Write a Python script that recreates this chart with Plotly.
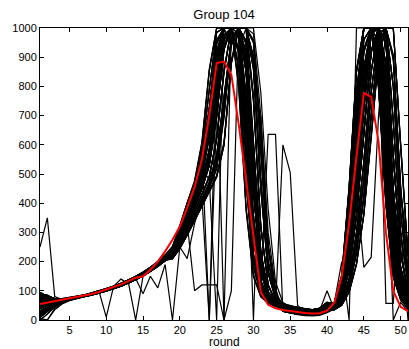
import plotly.graph_objects as go

rounds = list(range(1, 52))
x_ticks = [5, 10, 15, 20, 25, 30, 35, 40, 45, 50]
y_ticks = [0, 100, 200, 300, 400, 500, 600, 700, 800, 900, 1000]

run01 = [80,75,70,72,76,80,85,90,97,104,112,121,132,144,157,172,190,211,
         250,320,400,470,600,850,1000,1000,1000,800,380,150,80,58,47,
         40,35,32,30,28,30,38,
         60,150,450,850,1000,1000,800,400,150,70,40]
run02 = [45,55,62,67,72,77,83,89,95,103,111,121,131,143,156,171,189,210,
         242,305,372,445,545,730,960,1000,1000,915,555,215,92,60,50,
         45,40,36,33,30,32,45,
         55,130,360,720,1000,1000,900,520,200,85,45]
run03 = [10,30,50,62,70,76,82,88,95,102,110,119,130,142,155,170,188,208,
         232,288,352,418,505,650,890,1000,1000,1000,690,315,118,68,50,
         35,30,26,24,22,25,33,
         50,110,290,600,920,1000,1000,650,270,110,55]
run04 = [90,85,72,70,74,79,84,90,98,106,115,125,136,148,162,178,197,220,
         233,282,343,405,475,585,810,1000,1000,1000,850,440,165,78,55,
         50,44,40,36,34,38,55,
         45,95,240,500,820,1000,1000,780,350,140,65]
run05 = [60,62,65,69,73,78,84,91,98,106,114,124,135,147,161,177,196,218,
         228,272,328,388,455,535,710,940,1000,1000,945,590,225,92,58,
         38,33,28,25,24,28,42,
         42,85,200,420,720,980,1000,880,450,180,80]
run06 = [30,45,58,65,70,74,79,85,92,99,107,116,126,138,151,166,183,203,
         218,258,308,368,428,488,615,845,1000,1000,1000,770,325,118,62,
         30,25,20,18,17,20,30,
         40,75,170,360,640,920,1000,950,560,230,95]
run07 = [0,20,45,60,68,75,81,87,94,101,109,118,129,141,154,169,187,207,
         215,255,300,355,410,470,560,760,960,1000,1000,900,650,250,90,
         55,48,42,38,35,40,60,
         38,65,140,300,540,850,1000,1000,680,300,120]
run08 = [70,68,66,68,72,77,82,88,94,101,109,118,128,140,153,168,186,206,
         238,298,368,438,538,715,945,1000,1000,925,565,225,97,63,49,
         36,31,27,25,23,26,35,
         47,98,245,510,830,1000,1000,770,340,135,60]
run09 = [55,58,63,66,71,76,81,87,93,100,108,117,127,139,152,167,185,205,
         236,292,358,423,498,635,870,1000,1000,1000,710,325,122,71,53,
         41,36,33,31,29,31,40,
         43,88,205,430,730,990,1000,870,440,175,75]
run10 = [95,80,68,66,70,75,80,86,93,100,108,117,128,140,154,170,189,212,
         231,279,338,398,468,575,795,1000,1000,1000,865,455,172,82,56,
         46,41,37,34,31,33,47,
         57,135,370,730,1000,1000,890,510,195,82,42]
run11 = [20,40,55,63,69,74,80,86,93,101,110,120,131,144,158,174,193,215,
         226,268,322,382,448,528,695,925,1000,1000,955,605,235,97,61,
         51,45,41,37,35,39,56,
         52,112,295,610,930,1000,1000,640,265,105,52]
run12 = [65,60,62,66,71,76,82,89,97,105,114,124,136,149,163,180,199,222,
         222,262,312,372,432,492,625,855,1000,1000,1000,750,315,122,66,
         39,34,29,26,25,29,43,
         62,155,460,860,1000,1000,790,390,145,68,38]
run13 = [78,74,71,73,77,81,86,92,98,105,113,122,133,145,158,173,191,212,
         237,291,354,421,502,645,885,1000,1000,1000,705,318,119,69,51,
         30,24,20,17,16,19,29,
         41,77,175,365,650,925,1000,945,555,225,92]
run14 = [48,56,63,68,73,78,83,89,96,104,112,122,132,144,157,172,190,211,
         229,281,341,402,472,582,805,1000,1000,1000,855,448,168,80,57,
         54,47,42,38,35,41,58,
         51,108,285,595,915,1000,1000,655,275,112,57]
run15 = [15,35,52,63,71,77,83,89,96,103,111,120,131,143,156,171,189,209,
         224,271,327,386,452,532,705,935,1000,1000,948,598,228,94,59,
         40,35,32,29,27,30,38,
         46,96,242,505,825,1000,1000,775,345,138,63]
run16 = [85,82,74,71,75,80,85,91,99,107,116,126,137,149,163,179,198,221,
         252,322,402,472,605,855,1000,1000,1000,795,375,148,79,57,46,
         44,39,35,32,30,33,44,
         44,87,202,425,725,985,1000,875,445,178,78]
run17 = [62,63,66,70,74,79,85,92,99,107,115,125,136,148,162,178,197,219,
         241,302,371,442,542,725,955,1000,1000,918,560,218,94,61,49,
         34,29,26,23,21,24,32,
         39,74,168,355,635,915,1000,955,565,235,98]
run18 = [32,46,59,65,70,75,80,86,92,99,107,116,126,138,151,166,183,203,
         234,289,356,419,499,642,878,1000,1000,1000,698,322,121,70,52,
         49,43,39,35,33,37,54,
         37,63,138,295,535,845,1000,1000,690,305,125]
run19 = [5,0,40,58,67,74,80,86,93,100,108,117,128,140,153,168,186,206,
         230,279,341,401,471,579,798,1000,1000,1000,862,452,171,79,54,
         37,32,28,25,23,27,41,
         56,132,365,725,1000,1000,905,525,205,88,46]
run20 = [72,69,67,69,73,78,83,89,95,102,110,119,129,141,154,169,187,207,
         226,269,324,384,449,531,702,932,1000,1000,952,602,232,96,60,
         31,26,21,19,18,21,31,
         49,109,288,598,918,1000,1000,648,268,108,54]
run21 = [57,59,64,67,72,77,82,88,94,101,109,118,128,140,153,168,186,206,
         221,261,311,371,431,491,622,852,1000,1000,1000,765,322,119,64,
         56,49,43,39,36,41,61,
         44,94,238,498,818,1000,1000,785,352,142,66]
run22 = [92,78,67,65,69,74,79,85,92,99,107,116,127,139,153,169,188,211,
         216,256,302,357,412,472,565,765,965,1000,1000,895,645,248,88,
         41,36,32,30,28,31,39,
         41,84,198,418,718,978,1000,882,452,182,82]
run23 = [22,42,56,64,70,75,81,87,94,102,111,121,132,145,159,175,194,216,
         243,303,373,443,543,722,952,1000,1000,922,562,222,96,61,49,
         46,41,37,34,31,33,46,
         61,152,455,855,1000,1000,805,405,152,72,41]
run24 = [67,62,63,67,72,77,83,90,98,106,115,125,137,150,164,181,200,223,
         238,293,357,422,503,648,882,1000,1000,1000,702,318,117,67,50,
         35,30,25,24,22,24,34,
         54,128,355,715,1000,1000,895,515,198,84,44]
run25 = [82,76,71,72,76,80,85,91,97,104,112,121,132,144,157,172,190,211,
         231,281,339,401,469,578,802,1000,1000,1000,858,446,169,81,56,
         51,45,40,37,34,38,56,
         41,76,172,362,645,922,1000,948,558,228,94]
run26 = [43,54,61,66,71,76,82,88,95,102,110,120,130,142,155,170,188,209,
         227,271,326,387,451,529,698,928,1000,1000,958,605,229,93,59,
         38,33,28,26,24,28,42,
         38,66,142,302,545,855,1000,1000,675,298,118]
run27 = [12,32,51,62,70,76,82,88,95,102,110,119,130,142,155,170,188,208,
         219,259,309,369,429,489,618,848,1000,1000,1000,755,318,121,63,
         29,24,20,18,16,20,31,
         59,148,448,848,1000,1000,795,398,148,69,39]
run28 = [88,84,73,70,74,79,84,90,98,106,115,125,136,148,162,178,197,220,
         239,294,360,425,508,655,890,1000,1000,1000,695,312,116,69,53,
         55,48,42,38,36,40,59,
         43,86,201,422,722,982,1000,878,448,179,79]
run29 = [58,61,65,69,73,78,84,91,98,106,114,124,135,147,161,177,196,218,
         232,283,342,403,473,583,808,1000,1000,1000,852,442,166,79,54,
         40,35,31,29,28,30,37,
         50,111,292,605,925,1000,1000,645,272,109,56]
run30 = [28,44,57,64,69,74,79,85,92,99,107,116,126,138,151,166,183,203,
         239,301,369,439,539,718,948,1000,1000,928,568,228,98,63,50,
         45,40,36,33,30,32,45,
         45,97,243,502,822,1000,1000,782,348,139,64]
run31 = [54,57,62,66,71,76,81,87,93,100,108,117,127,139,152,167,185,205,
         225,270,324,385,452,532,703,933,1000,1000,947,595,227,95,60,
         35,30,26,24,22,25,33,
         40,75,171,358,642,918,1000,952,562,232,96]
run32 = [64,61,63,67,72,77,83,89,97,105,114,124,136,149,163,180,199,222,
         230,280,340,400,470,580,800,1000,1000,1000,860,450,170,80,55,
         50,44,40,36,34,38,55,
         55,130,360,720,1000,1000,900,520,200,85,45]
run33 = [80,76,72,71,75,79,84,90,96,103,111,120,131,142,154,168,185,204,
         215,250,295,345,400,455,520,700,950,1000,1000,880,480,170,75,
         45,40,36,33,30,32,45,
         36,55,110,230,420,700,950,1000,900,450,160]
run34 = [60,62,65,68,72,77,82,88,94,101,109,118,128,140,153,167,184,203,
         210,245,290,340,390,440,490,600,880,1000,1000,950,560,200,80,
         35,30,26,24,22,25,33,
         35,50,95,190,360,620,900,1000,1000,600,220]
run35 = [55,58,63,66,71,76,81,87,93,100,108,117,127,139,152,167,185,205,
         238,295,362,430,520,690,920,1000,1000,980,640,280,110,66,50,
         38,33,28,25,24,28,42,
         48,100,260,540,860,1000,1000,720,310,125,60]
run36 = [45,55,62,67,72,77,83,89,95,103,111,121,131,143,156,171,189,210,
         226,275,332,392,460,555,750,960,1000,1000,920,520,200,88,58,
         40,35,32,30,28,30,38,
         58,140,400,780,1000,1000,850,460,175,78,42]
run37 = [30,45,58,65,70,74,79,85,92,99,107,116,126,138,151,166,183,203,
         218,252,298,348,402,458,525,710,955,1000,1000,870,470,165,73,
         50,44,40,36,34,38,55,
         47,98,255,530,850,1000,1000,730,320,128,62]
run38 = [65,60,62,66,71,76,82,89,97,105,114,124,136,149,163,180,199,222,
         212,248,292,342,392,442,495,610,890,1000,1000,980,700,300,110,
         30,25,20,18,17,20,30,
         37,57,115,240,430,710,955,1000,890,440,155]
run39 = [10,30,50,62,70,76,82,88,95,102,110,119,130,142,155,170,188,208,
         236,293,360,428,515,680,915,1000,1000,1000,650,285,112,67,51,
         55,48,42,38,35,40,60,
         57,138,395,775,1000,1000,855,465,178,79,43]
run40 = [90,85,72,70,74,79,84,90,98,106,115,125,136,148,162,178,197,220,
         224,273,330,390,458,552,745,955,1000,930,1000,530,205,90,58,
         45,40,36,33,30,32,45,
         36,52,98,195,365,625,905,1000,1000,590,215]
run41 = [0,20,45,60,68,75,81,87,94,101,109,118,129,141,154,169,187,207,
         214,249,293,343,398,452,515,690,945,1000,1000,890,490,175,76,
         38,33,28,25,24,28,42,
         40,75,170,360,640,920,1000,950,560,230,95]
run42 = [70,68,66,68,72,77,82,88,94,101,109,118,128,140,153,168,186,206,
         211,246,291,341,391,441,492,605,885,1000,1000,960,575,205,82,
         40,35,32,30,28,30,38,
         35,54,108,228,418,698,948,1000,910,460,165]
run43 = [95,80,68,66,70,75,80,86,93,100,108,117,128,140,154,170,189,212,
         240,297,364,432,522,695,925,1000,940,1000,630,275,108,65,49,
         35,30,26,24,22,25,33,
         45,95,240,500,820,1000,1000,780,350,140,65]
run44 = [20,40,55,63,69,74,80,86,93,101,110,120,131,144,158,174,193,215,
         227,276,334,394,462,558,755,965,1000,1000,915,515,198,87,57,
         50,44,40,36,34,38,55,
         49,102,265,548,868,1000,1000,712,305,122,58]
run45 = [62,63,66,70,74,79,85,92,99,107,115,125,136,148,162,178,197,219,
         209,244,289,339,389,439,489,598,878,1000,1000,955,565,202,81,
         55,48,42,38,35,40,60,
         58,140,400,780,1000,1000,850,460,175,78,42]
run46 = [78,74,71,73,77,81,86,92,98,105,113,122,133,145,158,173,191,212,
         216,251,296,346,401,456,522,705,952,1000,1000,950,650,260,100,
         30,25,20,18,17,20,30,
         35,51,96,192,362,622,902,1000,1000,605,225]
run47 = [48,56,63,68,73,78,83,89,96,104,112,122,132,144,157,172,190,211,
         241,302,370,441,541,725,955,1000,1000,910,550,212,90,60,49,
         38,33,28,25,24,28,42,
         36,55,110,230,420,700,950,1000,900,450,160]
run48 = [57,59,64,67,72,77,82,88,94,101,109,118,128,140,153,168,186,206,
         215,255,300,355,410,470,560,760,960,1000,1000,905,655,255,92,
         45,40,36,33,30,32,45,
         48,100,260,540,860,1000,1000,720,310,125,60]
run49 = [67,62,63,67,72,77,83,90,98,106,115,125,137,150,164,181,200,223,
         252,325,405,478,610,860,1000,1000,1000,810,390,155,82,59,48,
         35,30,26,24,22,25,33,
         58,140,400,780,1000,1000,850,460,175,78,42]
run50 = [32,46,59,65,70,75,80,86,92,99,107,116,126,138,151,166,183,203,
         226,275,332,392,460,555,750,960,1000,1000,920,520,200,88,58,
         30,24,20,17,16,19,29,
         36,55,110,230,420,700,950,1000,900,450,160]
run51 = [88,84,73,70,74,79,84,90,98,106,115,125,136,148,162,178,197,220,
         238,295,362,430,520,690,920,1000,1000,980,640,280,110,66,50,
         50,44,40,36,34,38,55,
         35,50,95,190,360,620,900,1000,1000,600,220]
run52 = [15,35,52,63,71,77,83,89,96,103,111,120,131,143,156,171,189,209,
         210,245,290,340,390,440,490,600,880,1000,1000,1000,780,380,130,
         60,45,36,32,30,30,38,
         48,100,260,540,860,1000,1000,720,310,125,60]
run53 = [74,71,68,69,73,78,83,89,96,103,111,120,130,142,155,170,188,209,
         245,312,385,455,570,790,985,1000,1000,860,470,185,88,60,48,
         42,37,34,31,29,31,41,
         53,120,330,670,960,1000,950,580,235,95,48]
run54 = [50,57,63,67,72,77,82,88,95,102,110,119,129,141,154,169,187,207,
         228,277,336,396,465,568,775,975,1000,1000,890,485,185,84,57,
         48,42,38,35,32,36,52,
         44,90,220,460,770,990,1000,830,400,160,70]
run55 = [25,42,56,64,70,75,81,87,94,101,109,118,128,140,153,168,186,206,
         217,254,300,352,408,465,540,730,965,1000,1000,860,450,160,72,
         36,31,27,24,23,26,36,
         37,60,125,265,480,780,980,1000,800,370,140]
run56 = [86,80,72,70,74,78,83,89,96,104,112,122,133,145,158,173,191,213,
         233,286,349,414,490,625,860,1000,1000,1000,760,360,135,74,53,
         33,28,23,21,19,22,31,
         53,120,330,670,960,1000,950,580,235,95,48]
run57 = [63,61,64,68,72,77,83,90,97,105,113,123,134,146,159,175,193,214,
         245,312,385,455,570,790,985,1000,1000,860,470,185,88,60,48,
         52,46,41,37,35,39,57,
         37,60,125,265,480,780,980,1000,800,370,140]
run58 = [8,28,48,61,69,75,81,87,94,101,109,118,129,141,154,169,187,207,
         228,277,336,396,465,568,775,975,1000,1000,890,485,185,84,57,
         40,35,32,30,28,30,38,
         53,120,330,670,960,1000,950,580,235,95,48]
run59 = [93,83,70,67,71,76,81,87,94,101,109,118,129,141,155,171,190,212,
         217,254,300,352,408,465,540,730,965,1000,1000,860,450,160,72,
         45,40,36,33,30,32,45,
         44,90,220,460,770,990,1000,830,400,160,70]
run60 = [56,59,63,67,72,77,82,88,95,102,110,119,130,142,155,170,188,209,
         233,286,349,414,490,625,860,1000,1000,1000,760,360,135,74,53,
         38,33,28,25,24,28,42,
         37,60,125,265,480,780,980,1000,800,370,140]
run61 = [38,50,60,65,70,75,80,86,93,100,108,117,127,139,152,167,185,205,
         245,312,385,455,570,790,985,1000,1000,860,470,185,88,60,48,
         35,30,26,24,22,25,33,
         44,90,220,460,770,990,1000,830,400,160,70]
run62 = [68,65,65,68,72,77,83,89,96,104,112,122,133,145,158,174,192,214,
         228,277,336,396,465,568,775,975,1000,1000,890,485,185,84,57,
         30,25,20,18,17,20,30,
         37,60,125,265,480,780,980,1000,800,370,140]
run63 = [76,72,69,70,74,79,84,90,97,104,112,121,131,143,156,171,189,210,
         217,254,300,352,408,465,540,730,965,1000,1000,860,450,160,72,
         50,44,40,36,34,38,55,
         53,120,330,670,960,1000,950,580,235,95,48]
run64 = [18,38,54,63,69,75,81,87,94,101,109,118,128,140,153,168,186,206,
         233,286,349,414,490,625,860,1000,1000,1000,760,360,135,74,53,
         55,48,42,38,35,40,60,
         44,90,220,460,770,990,1000,830,400,160,70]

odd01 = [250,350,80,70,73,78,83,89,96,103,111,120,131,143,156,171,189,210,
         235,290,355,420,500,640,880,1000,1000,1000,700,320,120,70,52,
         40,35,32,30,28,30,38,
         50,110,290,600,920,1000,1000,650,270,110,55]
odd02 = [60,62,66,70,74,79,84,92,100,10,115,140,125,146,160,176,195,217,
         240,300,370,440,540,720,950,1000,1000,920,560,220,95,62,50,
         38,33,28,25,24,28,42,
         42,85,200,420,720,980,1000,880,450,180,80]
odd03 = [50,56,62,67,72,77,83,89,96,104,112,125,130,0,150,170,190,212,
         230,280,340,400,470,580,800,1000,1000,1000,860,450,170,80,55,
         45,40,36,33,30,32,45,
         55,130,360,720,1000,1000,900,520,200,85,45]
odd04 = [40,52,60,66,71,76,82,88,95,102,110,119,130,142,90,150,110,190,
         0,250,210,330,420,0,900,1000,1000,1000,700,320,120,70,52,
         35,30,26,24,22,25,33,
         45,95,240,500,820,1000,1000,780,350,140,65]
odd05 = [70,68,66,68,72,77,82,88,94,101,109,118,128,140,153,168,186,206,
         240,300,330,100,120,120,120,0,1000,1000,780,300,90,60,48,
         42,37,33,31,29,31,40,
         47,98,245,510,830,1000,1000,770,340,135,60]
odd06 = [55,58,63,66,71,76,81,87,93,100,108,117,127,139,152,167,185,205,
         236,292,358,423,520,480,0,1000,1000,1000,850,440,165,78,55,
         41,36,33,31,29,31,40,
         43,88,205,430,730,990,1000,870,440,175,75]
odd07 = [30,45,58,65,70,74,79,85,92,99,107,116,126,138,151,166,183,203,
         225,270,325,385,450,530,700,930,1000,1000,950,600,100,636,636,
         30,25,20,18,17,20,30,
         45,96,242,505,825,1000,1000,775,345,138,63]
odd08 = [65,60,62,66,71,76,82,89,97,105,114,124,136,149,163,180,199,222,
         222,262,312,372,432,492,625,855,1000,1000,1000,750,315,122,45,
         600,505,50,30,25,29,43,
         50,110,290,600,920,1000,1000,650,270,110,55]
odd09 = [20,40,55,63,69,74,80,86,93,101,110,120,131,144,158,174,193,215,
         226,268,322,382,448,528,695,925,1000,1000,955,605,235,97,61,
         45,40,35,30,28,32,100,
         35,120,300,450,180,215,700,1000,400,150,60]
odd10 = [72,69,67,69,73,78,83,89,95,102,110,119,129,141,154,169,187,207,
         233,282,343,405,475,585,810,1000,1000,1000,850,440,165,78,55,
         51,45,41,37,35,39,56,
         42,85,200,420,720,980,1000,57,57,435,250]
odd11 = [85,82,74,71,75,80,85,91,99,107,116,126,137,149,163,179,198,221,
         238,298,368,438,538,715,945,1000,1000,925,565,225,97,63,49,
         40,35,31,29,28,30,37,
         60,200,0,1000,1000,1000,950,600,0,60,30]
odd12 = [5,0,35,55,66,73,79,85,92,99,107,116,126,138,151,166,183,203,
         216,256,302,357,412,472,565,765,965,1000,1000,895,645,248,88,
         30,24,18,15,14,16,25,
         38,66,142,302,545,855,1000,1000,675,298,0]
odd13 = [62,63,66,70,74,79,85,92,99,107,115,125,136,148,162,178,197,219,
         232,285,345,410,490,650,900,0,100,1000,1000,620,230,95,58,
         34,29,26,23,21,24,32,
         39,74,168,355,635,915,1000,955,565,235,98]
odd14 = [80,75,70,72,76,80,85,90,97,104,112,121,132,144,157,172,190,211,
         245,310,390,460,580,0,700,1000,1000,1000,900,500,180,82,56,
         50,44,40,36,34,38,55,
         60,150,450,850,1000,1000,800,400,150,70,40]
odd15 = [45,55,62,67,72,77,83,89,95,103,111,121,131,143,156,171,189,210,
         228,272,328,388,455,535,710,940,1000,1000,700,0,700,250,80,
         38,33,28,25,24,28,42,
         40,75,170,360,640,920,1000,950,560,230,95]

mean_curve = [55,60,64,68,73,78,83,89,96,104,112,122,133,145,150,172,200,235,
              275,320,385,455,550,700,880,885,840,670,480,280,95,52,40,
              34,30,27,24,22,23,32,
              60,150,330,560,777,764,610,300,100,45,30]

runs = [run01, run02, run03, run04, run05, run06, run07, run08, run09, run10,
        run11, run12, run13, run14, run15, run16, run17, run18, run19, run20,
        run21, run22, run23, run24, run25, run26, run27, run28, run29, run30,
        run31, run32, run33, run34, run35, run36, run37, run38, run39, run40,
        run41, run42, run43, run44, run45, run46, run47, run48, run49, run50,
        run51, run52, run53, run54, run55, run56, run57, run58, run59, run60,
        run61, run62, run63, run64,
        odd01, odd02, odd03, odd04, odd05, odd06, odd07, odd08, odd09, odd10,
        odd11, odd12, odd13, odd14, odd15]

for i, r in enumerate(runs):
    assert len(r) == 51, (i, len(r))
assert len(mean_curve) == 51

FONT = "Liberation Sans, Arial, Helvetica, sans-serif"

fig = go.Figure()
for r in runs:
    fig.add_trace(go.Scatter(x=rounds, y=r, mode="lines",
                             line=dict(color="black", width=1.2),
                             hoverinfo="skip", showlegend=False))
fig.add_trace(go.Scatter(x=rounds, y=mean_curve, mode="lines",
                         line=dict(color="#ff0000", width=2),
                         showlegend=False))

axis_common = dict(showline=True, linecolor="black", linewidth=1,
                   mirror="ticks", ticks="inside", ticklen=4,
                   tickcolor="black", showgrid=False, zeroline=False,
                   automargin=False,
                   tickfont=dict(family=FONT, size=11, color="black"))

fig.update_layout(
    width=409, height=349,
    margin=dict(l=40, r=1, t=28, b=29, autoexpand=False),
    paper_bgcolor="white", plot_bgcolor="white",
    font=dict(family=FONT, size=12, color="black"),
    title=dict(text="Group 104", x=0.5, xref="paper", xanchor="center",
               y=1 - 14 / 349, yref="container", yanchor="middle",
               font=dict(family=FONT, size=13, color="black")),
    xaxis=dict(range=[1, 51], tickvals=x_ticks, **axis_common),
    yaxis=dict(range=[0, 1000], tickvals=y_ticks, **axis_common),
    annotations=[dict(text="round", x=0.5, xref="paper", y=-30 / 292,
                      yref="paper", xanchor="center", yanchor="bottom",
                      showarrow=False, borderpad=0,
                      font=dict(family=FONT, size=12, color="black"))],
)

fig.write_html("out.html",
               config={"displayModeBar": False},
               post_script="document.body.style.margin='0px';"
                           "document.body.style.overflow='hidden';")
